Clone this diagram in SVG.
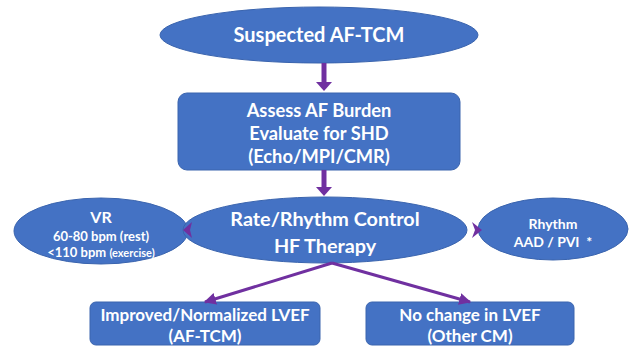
<svg xmlns="http://www.w3.org/2000/svg" width="630" height="347" viewBox="0 0 630 347">
<defs>
<style>
.n{fill:#4472C4;stroke:#3A64AE;stroke-width:1}
.t{font-family:Lato,"Open Sans",sans-serif;font-weight:bold;fill:#fff;text-anchor:middle}
.c{stroke:#7030A0;fill:none}
.h{fill:#7030A0;stroke:none}
</style>
<marker id="ah" viewBox="0 0 10 10" refX="9" refY="5" markerWidth="4" markerHeight="4" orient="auto" markerUnits="strokeWidth">
<path d="M0,0 L10,5 L0,10 z" class="h"/>
</marker>
</defs>
<rect width="630" height="347" fill="#fff"/>
<g id="n1">
<ellipse class="n" cx="319" cy="35" rx="159" ry="28"/>
<text class="t" x="319" y="42" font-size="20">Suspected AF-TCM</text>
</g>
<g id="n2">
<rect class="n" x="178" y="93" width="282" height="77" rx="9"/>
<text class="t" x="319" y="117" font-size="18.3">Assess AF Burden</text>
<text class="t" x="319" y="140" font-size="18.3">Evaluate for SHD</text>
<text class="t" x="319" y="163" font-size="18.3">(Echo/MPI/CMR)</text>
</g>
<g id="n4">
<ellipse class="n" cx="101" cy="231" rx="87" ry="33"/>
<text class="t" x="101" y="223" font-size="16">VR</text>
<text class="t" x="101" y="241" font-size="13">60-80 bpm (rest)</text>
<text class="t" x="101" y="257" font-size="13">&lt;110 bpm <tspan font-size="11">(exercise)</tspan></text>
</g>
<g id="n5">
<ellipse class="n" cx="553" cy="229" rx="75" ry="31"/>
<text class="t" x="553" y="229" font-size="14">Rhythm</text>
<text class="t" x="553" y="247" font-size="14" xml:space="preserve">AAD / PVI  *</text>
</g>
<g id="n3">
<ellipse class="n" cx="325" cy="230" rx="142" ry="33"/>
<text class="t" x="325" y="226" font-size="19.8">Rate/Rhythm Control</text>
<text class="t" x="325" y="253" font-size="19.8">HF Therapy</text>
</g>
<g id="n6">
<rect class="n" x="90" y="302" width="230" height="43" rx="6"/>
<text class="t" x="205" y="321" font-size="17">Improved/Normalized LVEF</text>
<text class="t" x="205" y="342" font-size="17">(AF-TCM)</text>
</g>
<g id="n7">
<rect class="n" x="366" y="302" width="208" height="43" rx="6"/>
<text class="t" x="470" y="321" font-size="17">No change in LVEF</text>
<text class="t" x="470" y="342" font-size="17">(Other CM)</text>
</g>
<g id="connectors">
<line class="c" x1="324" y1="63" x2="324" y2="83" stroke-width="5"/>
<path class="h" d="M316,82 L332,82 L324,91 z"/>
<line class="c" x1="324" y1="170" x2="324" y2="188" stroke-width="5"/>
<path class="h" d="M316,187 L332,187 L324,196 z"/>
<path class="h" d="M192,222 L183,230 L192,238 L190,230 z"/>
<path class="h" d="M472,222 L482,230 L472,238 L475,230 z"/>
<line class="c" x1="332" y1="263" x2="205" y2="302" stroke-width="3" marker-end="url(#ah)"/>
<line class="c" x1="332" y1="263" x2="470" y2="302" stroke-width="3" marker-end="url(#ah)"/>
</g>
</svg>
